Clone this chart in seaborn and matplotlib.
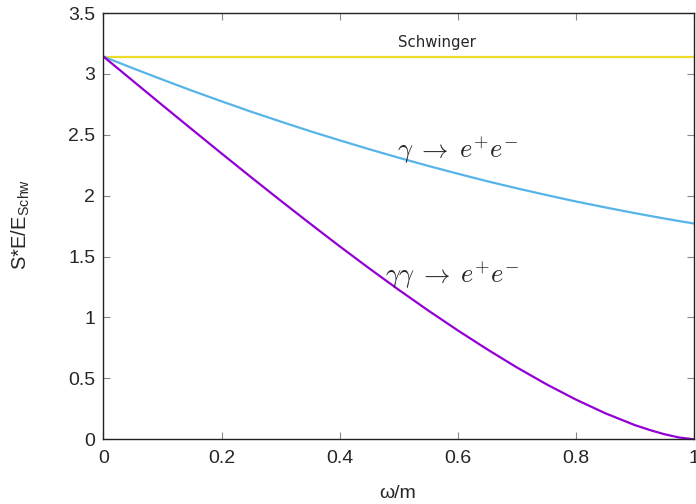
import numpy as np
import pandas as pd
import matplotlib

matplotlib.use("Agg")
import matplotlib.pyplot as plt
import seaborn as sns

# values
omega = [0.0, 0.05, 0.1, 0.15, 0.2, 0.25, 0.3, 0.35, 0.4, 0.45, 0.5,
         0.55, 0.6, 0.65, 0.7, 0.75, 0.8, 0.85, 0.9, 0.925, 0.95, 0.975, 1.0]
one_photon = [3.142, 3.046, 2.953, 2.862, 2.775, 2.690, 2.609, 2.530, 2.455, 2.382, 2.312,
              2.245, 2.181, 2.119, 2.061, 2.006, 1.953, 1.904, 1.857, 1.835, 1.813, 1.792, 1.772]
two_photon = [3.142, 2.942, 2.742, 2.544, 2.347, 2.152, 1.960, 1.771, 1.585, 1.404, 1.228,
              1.058, 0.895, 0.739, 0.591, 0.453, 0.327, 0.214, 0.117, 0.077, 0.042, 0.015, 0.0]
schwinger = [3.1416, 3.1416]
schwinger_x = [0.0, 1.0]

xticks = [0, 0.2, 0.4, 0.6, 0.8, 1]
xtick_labels = ["0", "0.2", "0.4", "0.6", "0.8", "1"]
yticks = [0, 0.5, 1, 1.5, 2, 2.5, 3, 3.5]
ytick_labels = ["0", "0.5", "1", "1.5", "2", "2.5", "3", "3.5"]

sns.set_theme(style="ticks")
plt.rcParams["font.family"] = ["Liberation Sans", "DejaVu Sans"]
plt.rcParams["mathtext.fontset"] = "cm"

df = pd.DataFrame({"omega": omega, "one": one_photon, "two": two_photon})

fig = plt.figure(figsize=(6.96, 5.04), dpi=100)
ax = fig.add_axes([0.1487, 0.1284, 0.848, 0.8458])

sns.lineplot(x=schwinger_x, y=schwinger, color="#EEDC2A", lw=1.6, ax=ax)
sns.lineplot(data=df, x="omega", y="one", color="#56B4E9", lw=1.6, ax=ax)
sns.lineplot(data=df, x="omega", y="two", color="#9400D3", lw=1.6, ax=ax)

ax.set_xlim(0, 1)
ax.set_ylim(0, 3.5)
ax.set_xticks(xticks)
ax.set_xticklabels(xtick_labels)
ax.set_yticks(yticks)
ax.set_yticklabels(ytick_labels)
ax.tick_params(direction="in", length=5, width=0.8, color="#888888",
               labelsize=14, top=True, right=True)
ax.tick_params(axis="x", pad=8)
ax.tick_params(axis="y", pad=6)
for s in ax.spines.values():
    s.set_linewidth(1.0)
    s.set_color("#222222")

ax.set_xlabel("ω/m", fontsize=14)
ax.xaxis.set_label_coords(0.499, -0.108)
ax.set_ylabel("S*E/E$_\\mathregular{Schw}$", fontsize=14.5)
ax.yaxis.set_label_coords(-0.121, 0.503)

ax.text(0.565, 3.257, "Schwinger", fontsize=10.7, ha="center", va="center",
        family=["DejaVu Sans"])
ax.text(0.497, 2.37, r"$\gamma\;\rightarrow\;e^{+}e^{-}$", fontsize=19,
        ha="left", va="center")
ax.text(0.477, 1.347, r"$\gamma\gamma\;\rightarrow\;e^{+}e^{-}$", fontsize=19,
        ha="left", va="center")

fig.savefig("out.png", dpi=100, facecolor="w")
plt.close()
